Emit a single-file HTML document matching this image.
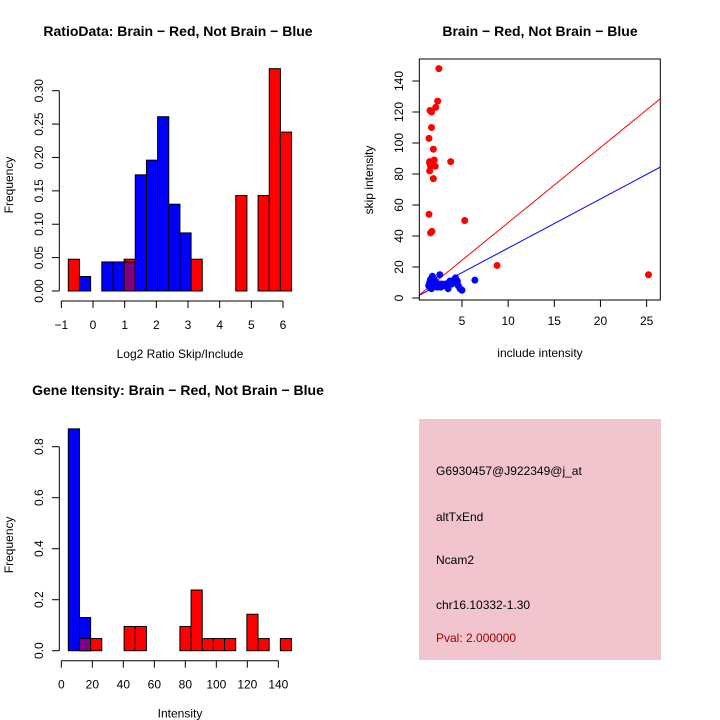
<!DOCTYPE html>
<html><head><meta charset="utf-8"><style>
body{margin:0;background:#fff}
svg{display:block;font-family:"Liberation Sans",sans-serif}
</style></head><body>
<svg id="s" width="720" height="720" viewBox="0 0 720 720" xmlns="http://www.w3.org/2000/svg">
<rect width="720" height="720" fill="#fff"/>
<g id="p1"></g>
<g id="p2"></g>
<g id="p3"></g>
<g id="p4">
<rect x="419" y="419" width="242" height="241" fill="#f2c4ce"/>
<text x="436" y="475" font-size="12">G6930457@J922349@j_at</text>
<text x="436" y="521" font-size="12">altTxEnd</text>
<text x="436" y="564" font-size="12">Ncam2</text>
<text x="436" y="609" font-size="12">chr16.10332-1.30</text>
<text x="436" y="642" font-size="12" fill="#a00000">Pval: 2.000000</text>
</g>
</svg>
<script>
// ---- histogram 1 data ----
const h1Start = -0.78, h1Width = 0.3525;
const h1Red = [0.0476,0,0,0,0,0.0476,0,0,0,0,0,0.0476,0,0,0,0.143,0,0.143,0.333,0.238];
const h1Blue = [0,0.0217,0,0.0435,0.0435,0.0435,0.174,0.196,0.261,0.130,0.087,0,0,0,0,0,0,0,0,0];
const h1XTicks = [-1,0,1,2,3,4,5,6];
const h1YTicks = ["0.00","0.05","0.10","0.15","0.20","0.25","0.30"];
// ---- scatter data ----
const redX = [1.5,1.5,1.6,1.43,1.7,1.54,1.7,1.9,2.0,2.1,1.9,1.43,1.6,1.75,2.15,2.37,2.5,3.78,5.3,8.8,25.2,1.5];
const redY = [88,82,85,103,110,121,120,96,89,85,77,54,42,43,123,127,148,88,50,21,15,87];
const blueX = [1.4,1.5,1.6,1.7,1.8,1.9,2.0,2.1,2.2,2.4,2.6,2.7,2.8,3.0,3.2,3.5,3.7,4.0,4.3,4.4,4.6,4.8,5.0,6.4,1.5,1.7,2.3,2.5,3.9,4.5];
const blueY = [8,10,12,6,14,9,12,8,10,8,15,7,9,8,9,6,11,11,13,10,8,6,5,11.5,7,11,7,9,9,11];
const redLine = [0.1,4.85];
const blueLine = [0.5,3.17];
const scXTicks = [5,10,15,20,25];
const scYTicks = [0,20,40,60,80,100,120,140];
// ---- histogram 2 data ----
const h2Start = 4.5, h2Width = 7.2;
const h2Red = [0,0.0476,0.0476,0,0,0.095,0.095,0,0,0,0.095,0.238,0.0476,0.0476,0.0476,0,0.143,0.0476,0,0.0476];
const h2Blue = [0.87,0.13,0,0,0,0,0,0,0,0,0,0,0,0,0,0,0,0,0,0];
const h2XTicks = [0,20,40,60,80,100,120,140];
const h2YTicks = ["0.0","0.2","0.4","0.6","0.8"];

const NS="http://www.w3.org/2000/svg";
function mk(parent,tag,attrs,text){const e=document.createElementNS(NS,tag);for(const k in attrs)e.setAttribute(k,attrs[k]);if(text!==undefined)e.textContent=text;parent.appendChild(e);return e;}

function histogram(g,start,width,red,blue,xs,ys,xTicks,yTicks,yAxisTop,title,titleY,xlab,top){
  for(let i=0;i<red.length;i++){
    const x0=xs(start+i*width),x1=xs(start+(i+1)*width);
    const r=red[i],b=blue[i];
    if(r>0){const e=mk(g,'rect',{x:x0,y:ys(r),width:x1-x0,height:ys(0)-ys(r),fill:'#ff0000',stroke:'#000','stroke-width':1});
      
      }
    if(b>0){const e=mk(g,'rect',{x:x0,y:ys(b),width:x1-x0,height:ys(0)-ys(b),fill:'#0000ff',stroke:'#000','stroke-width':1});
      
      }
    if(r>0&&b>0){const m=Math.min(r,b);const e=mk(g,'rect',{x:x0,y:ys(m),width:x1-x0,height:ys(0)-ys(m),fill:'#800080',stroke:'#000','stroke-width':1});
      
      }
  }
  const base=ys(0)+10;
  const ax=mk(g,'line',{x1:xs(xTicks[0]),x2:xs(xTicks[xTicks.length-1]),y1:base,y2:base,stroke:'#000'});
  
  
  xTicks.forEach(t=>{mk(g,'line',{x1:xs(t),x2:xs(t),y1:base,y2:base+7,stroke:'#000'});
    const l=mk(g,'text',{x:xs(t),y:base+28,'font-size':12,'text-anchor':'middle'},String(t).replace('-','\u2212'));
    
    });
  const ay=mk(g,'line',{x1:59.3,x2:59.3,y1:ys(0),y2:yAxisTop,stroke:'#000'});
  
  
  yTicks.forEach(t=>{const y=ys(parseFloat(t));mk(g,'line',{x1:52,x2:59.3,y1:y,y2:y,stroke:'#000'});
    const l=mk(g,'text',{x:43,y:y,'font-size':12,'text-anchor':'middle',transform:`rotate(-90 43 ${y})`},t);
    
    });
  const tt=mk(g,'text',{x:178,y:titleY,'font-size':14,'font-weight':'bold','text-anchor':'middle'},title);
  
  
  const xl=mk(g,'text',{x:180,y:base+57,'font-size':12,'text-anchor':'middle'},xlab);
  
  
  const cy=(ys(0)+top)/2+10;
  const yl=mk(g,'text',{x:13,y:cy,'font-size':12,'text-anchor':'middle',transform:`rotate(-90 13 ${cy})`},'Frequency');
  
  
}

// plot 1
(function(){
  const g=document.getElementById('p1');
  const xs=v=>61.33+(v+1)*31.67, ys=v=>291-v*(200.3/0.30);
  histogram(g,h1Start,h1Width,h1Red,h1Blue,xs,ys,h1XTicks,h1YTicks,ys(0.30),'RatioData: Brain \u2212 Red, Not Brain \u2212 Blue',36,'Log2 Ratio Skip/Include',59);
})();
// plot 3
(function(){
  const g=document.getElementById('p3');
  const xs=v=>61.33+v*1.55, ys=v=>650.7-v*(204/0.8);
  histogram(g,h2Start,h2Width,h2Red,h2Blue,xs,ys,h2XTicks,h2YTicks,ys(0.8),'Gene Itensity: Brain \u2212 Red, Not Brain \u2212 Blue',395,'Intensity',419);
})();
// scatter
(function(){
  const g=document.getElementById('p2');
  const L=419.3,R=660.3,T=59,B=300;
  const xs=v=>415.8+v*9.233, ys=v=>298-v*1.55;
  const cp=mk(g,'clipPath',{id:'sc'});mk(cp,'rect',{x:L,y:T,width:R-L,height:B-T});
  const pts=mk(g,'g',{'clip-path':'url(#sc)'});
  const x0=(L-415.8)/9.233,x1=(R-415.8)/9.233;
  const rl=mk(pts,'line',{x1:xs(x0),y1:ys(redLine[0]+redLine[1]*x0),x2:xs(x1),y2:ys(redLine[0]+redLine[1]*x1),stroke:'#ff0000'});
  
  
  const bl=mk(pts,'line',{x1:xs(x0),y1:ys(blueLine[0]+blueLine[1]*x0),x2:xs(x1),y2:ys(blueLine[0]+blueLine[1]*x1),stroke:'#0000ff'});
  
  
  redX.forEach((x,i)=>{const c=mk(pts,'circle',{cx:xs(x),cy:ys(redY[i]),r:3.5,fill:'#ff0000'});
    
    });
  blueX.forEach((x,i)=>{const c=mk(pts,'circle',{cx:xs(x),cy:ys(blueY[i]),r:3.5,fill:'#0000ff'});
    
    });
  const box=mk(g,'rect',{x:L,y:T,width:R-L,height:B-T,fill:'none',stroke:'#000'});
  
  
  scXTicks.forEach(t=>{mk(g,'line',{x1:xs(t),x2:xs(t),y1:B,y2:B+7,stroke:'#000'});
    const l=mk(g,'text',{x:xs(t),y:B+25,'font-size':12,'text-anchor':'middle'},t);
    
    });
  scYTicks.forEach(t=>{const y=ys(t);mk(g,'line',{x1:L-7,x2:L,y1:y,y2:y,stroke:'#000'});
    const l=mk(g,'text',{x:403,y:y,'font-size':12,'text-anchor':'middle',transform:`rotate(-90 403 ${y})`},t);
    
    });
  const tt=mk(g,'text',{x:540,y:36,'font-size':14,'font-weight':'bold','text-anchor':'middle'},'Brain \u2212 Red, Not Brain \u2212 Blue');
  
  
  const xl=mk(g,'text',{x:540,y:357,'font-size':12,'text-anchor':'middle'},'include intensity');
  
  
  const yl=mk(g,'text',{x:373,y:180,'font-size':12,'text-anchor':'middle',transform:'rotate(-90 373 180)'},'skip intensity');
  
  
})();
</script>
</body></html>
